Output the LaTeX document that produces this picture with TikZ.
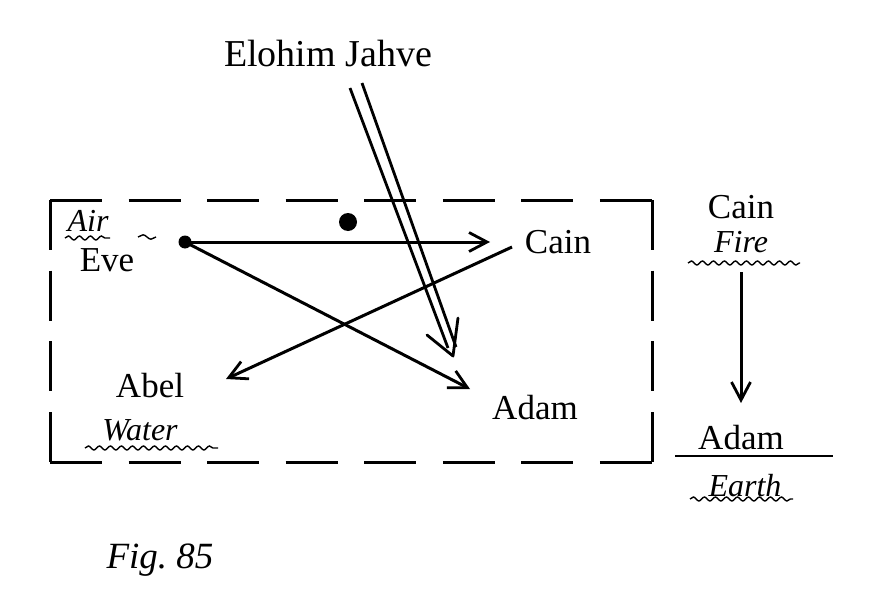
\documentclass[tikz,border=0pt]{standalone}
\usepackage{fontspec}
\setmainfont{Liberation Serif}
\usepackage{tikz}
\usetikzlibrary{arrows.meta,decorations.pathmorphing,calc}

\tikzset{
  person/.style={anchor=base, font=\fontsize{35}{40}\selectfont},
  elem/.style={anchor=base, font=\fontsize{32}{36}\selectfont\itshape},
  arr/.style={line width=3pt, -{Straight Barb[length=18pt,width=19pt,line width=2.8pt]}},
  wave/.style={line width=1.4pt, decorate, decoration={snake, amplitude=2pt, segment length=11pt}},
  frameh/.style={line width=3pt, line cap=square, dash pattern=on 52pt off 26.57pt},
  framev/.style={line width=3pt, line cap=square, dash pattern=on 50pt off 20.67pt},
}

\begin{document}
\begin{tikzpicture}[x=1pt,y=-1pt]
          % Variables
          \def \lw {2.8pt}

          % Page
          \useasboundingbox (0,0) rectangle (871,613);

          % Dashed frame
          \draw[frameh] (50,200) -- (652,200);
          \draw[frameh] (50,462) -- (652,462);
          \draw[framev] (50,200) -- (50,462);
          \draw[framev] (652,200) -- (652,462);

          % Names
          \node[person, font=\fontsize{38}{42}\selectfont] (elohim) at (328,66) {Elohim Jahve};
          \node[elem] (air)   at (88,231)  {Air};
          \node[person] (eve)   at (107,271) {Eve};
          \node[person] (cain)  at (558,253) {Cain};
          \node[person] (abel)  at (150,397) {Abel};
          \node[elem] (water) at (140,440) {Water};
          \node[person] (adam)  at (535,419) {Adam};

          \node[person] (cainr)  at (741,218) {Cain};
          \node[elem] (fire)   at (741,252) {Fire};
          \node[person] (adamr)  at (741,449) {Adam};
          \node[elem] (earth)  at (745,496) {Earth};

          \node[elem, font=\fontsize{37}{40}\selectfont\itshape] (fig) at (160,568) {Fig.~85};

          % Points
          \coordinate (evept)   at (185,242);
          \coordinate (cainto)  at (490,242);
          \coordinate (adamto)  at (470,389);
          \coordinate (cainpt)  at (512,247);
          \coordinate (abelto)  at (226,379);
          \coordinate (firept)  at (741,272);
          \coordinate (adamrto) at (741,403);
          \coordinate (jl)      at (350,88);
          \coordinate (jr)      at (362,83);
          \coordinate (jtip)    at (453,356);

          % Dots
          \fill (evept) circle (6.5);
          \fill (348,222) circle (9);

          % Arrows
          \draw[arr] (evept) -- (cainto);
          \draw[arr] (evept) -- (adamto);
          \draw[arr] (cainpt) -- (abelto);
          \draw[arr] (firept) -- (adamrto);

          % Double arrow
          \draw[line width=\lw] (jl) -- ($(jtip)+(-5,-8)$);
          \draw[line width=\lw] (jr) -- ($(jtip)+(3,-9)$);
          \draw[line width=\lw, line cap=round, line join=round] ($(jtip)+(-26,-21)$) -- (jtip) -- ($(jtip)+(5,-38)$);

          % Earth line
          \draw[line width=\lw] (675,456) -- (833,456);

          % Wavy lines
          \draw[wave] (65,238) -- (110,238);
          \draw[wave, decoration={snake, amplitude=2.2pt, segment length=16pt}] (138,237) -- (156,237);
          \draw[wave] (85,448) -- (218,448);
          \draw[wave] (688,263) -- (800,263);
          \draw[wave] (690,499) -- (793,499);

        \end{tikzpicture}
\end{document}
